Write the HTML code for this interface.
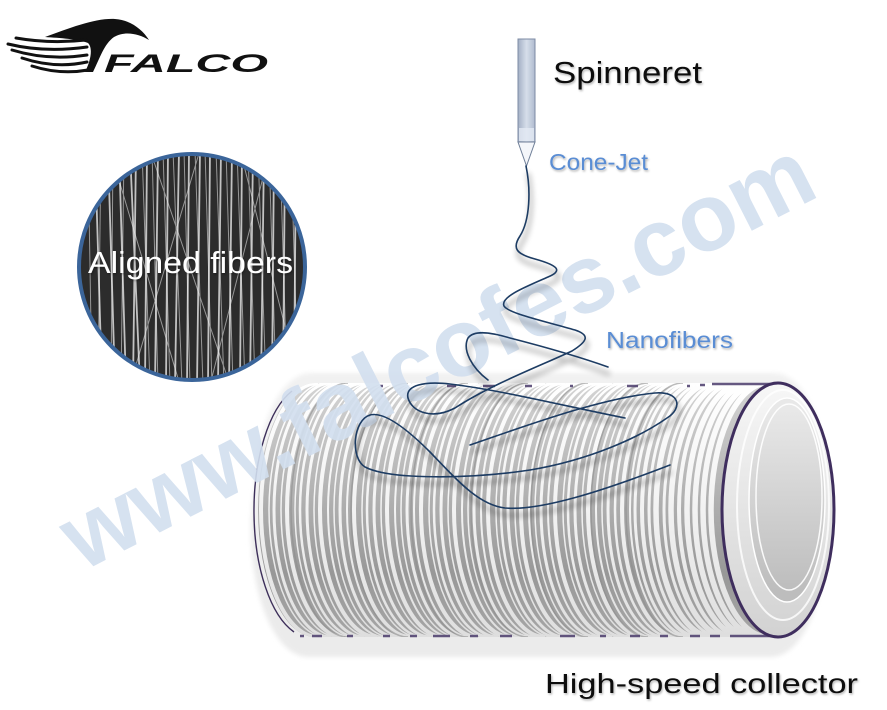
<!DOCTYPE html>
<html><head><meta charset="utf-8"><style>html,body{margin:0;padding:0;background:#fff;}svg{display:block}</style></head>
<body>
<svg width="887" height="710" viewBox="0 0 887 710" xmlns="http://www.w3.org/2000/svg" font-family="'Liberation Sans', Arial, sans-serif">
<defs>
<clipPath id="circ"><circle cx="192" cy="267" r="113"/></clipPath>
<clipPath id="bodyclip"><path d="M315,383 L778,383 A56,127 0 0 1 778,637 L315,637 A57,127 0 0 1 315,383 Z"/></clipPath>
<linearGradient id="bodyg" x1="0" y1="383" x2="0" y2="637" gradientUnits="userSpaceOnUse"><stop offset="0" stop-color="#d4d4d4"/><stop offset="0.35" stop-color="#b9b9b9"/><stop offset="0.75" stop-color="#989898"/><stop offset="1" stop-color="#a6a6a6"/></linearGradient>
<linearGradient id="sg" x1="0" y1="383" x2="0" y2="637" gradientUnits="userSpaceOnUse"><stop offset="0" stop-color="#ffffff"/><stop offset="0.5" stop-color="#f2f2f2"/><stop offset="1" stop-color="#dedede"/></linearGradient>
<linearGradient id="capg" x1="0" y1="383" x2="0" y2="637" gradientUnits="userSpaceOnUse"><stop offset="0" stop-color="#f7f7f7"/><stop offset="1" stop-color="#d2d2d2"/></linearGradient>
<linearGradient id="capin" x1="0" y1="410" x2="0" y2="590" gradientUnits="userSpaceOnUse"><stop offset="0" stop-color="#e8e8e8"/><stop offset="1" stop-color="#bdbdbd"/></linearGradient>
<linearGradient id="spg" x1="518" y1="0" x2="535" y2="0" gradientUnits="userSpaceOnUse"><stop offset="0" stop-color="#a3afc4"/><stop offset="0.5" stop-color="#d6deea"/><stop offset="1" stop-color="#b0bbcf"/></linearGradient>
<filter id="blur2" x="-10%" y="-10%" width="120%" height="130%"><feGaussianBlur stdDeviation="2.5"/></filter>
<filter id="fshadow" x="-10%" y="-10%" width="120%" height="130%"><feGaussianBlur stdDeviation="3"/></filter>
<filter id="tsh" x="-10%" y="-30%" width="120%" height="160%"><feDropShadow dx="1" dy="1.5" stdDeviation="1" flood-color="#000" flood-opacity="0.3"/></filter>
<path id="body" d="M315,383 L778,383 A56,127 0 0 1 778,637 L315,637 A57,127 0 0 1 315,383 Z"/>
<g id="fib">
<path d="M526,166 C531,190 530,220 520,236 C512,248 516,254 535,259 C560,266 562,271 548,277 C525,287 500,297 504,306 C508,313 540,320 575,330 C590,335 588,341 572,351 C540,366 490,385 455,408 C432,420 412,412 408,398 C405,385 425,381 450,384 C500,390 560,405 625,418"/>
<path d="M488,380 C472,368 462,350 468,338 C474,330 490,332 510,338 C545,347 580,357 608,367"/>
<path d="M470,445 C520,428 600,398 655,393 C680,391 683,408 667,418 C640,437 590,460 530,470 C470,479 390,480 365,467 C350,458 353,420 370,415 C385,411 410,432 430,452 C455,478 478,505 505,508 C540,511 600,492 670,465"/>
</g>
</defs>

<rect width="887" height="710" fill="#fff"/>

<!-- Logo -->
<path d="M45,37 C70,28 95,18 115,19 C130,20 142,29 149,40 C138,33 124,31 114,37 C104,44 100,58 93,72 L85,72 C91,60 93,48 88,43 C78,39 60,38 45,37 Z" fill="#111"/>
<path d="M16,38 Q50,44 86,40 M8,44 Q45,53 87,47 M12,50 Q48,61 87,55 M22,58 Q55,69 87,62 M32,66 Q60,75 88,70" fill="none" stroke="#111" stroke-width="3" stroke-linecap="round"/>
<text x="104" y="72" font-size="25" font-weight="bold" font-style="italic" fill="#111" textLength="164" lengthAdjust="spacingAndGlyphs">FALCO</text>

<!-- Aligned fibers circle -->
<g clip-path="url(#circ)">
<rect x="70" y="150" width="250" height="240" fill="#2c2c2c"/>
<path stroke="#f0f0f0" fill="none" stroke-width="1" opacity="0.55" d="M88,150L92,385M101,150L98,385M113,150L111,385M124,150L121,385M142,150L150,385M152,150L158,385M163,150L170,385M173,150L182,385M184,150L190,385M195,150L203,385M205,150L212,385M216,150L224,385M226,150L233,385M237,150L245,385M248,150L255,385M258,150L266,385M269,150L276,385M280,150L287,385M291,150L298,385M110,150L180,385M200,150L130,385M240,150L300,385M150,150L230,385M270,150L210,385"/>
<path stroke="#f4f4f4" fill="none" stroke-width="1.8" opacity="0.75" d="M95,150L102,385M108,150L115,385M119,150L126,385M130,150L140,385M136,150L133,385M147,150L145,385M158,150L155,385M168,150L166,385M179,150L175,385M189,150L187,385M200,150L197,385M210,150L208,385M221,150L218,385M232,150L229,385M242,150L240,385M253,150L250,385M264,150L261,385M274,150L272,385M285,150L283,385M296,150L294,385"/>
</g>
<circle cx="192" cy="267" r="113" fill="none" stroke="#3b659a" stroke-width="4"/>
<text x="88" y="273" font-size="31" fill="#fff" textLength="205" lengthAdjust="spacingAndGlyphs" filter="url(#tsh)">Aligned fibers</text>

<!-- Cylinder halo -->
<g filter="url(#blur2)">
<use href="#body" transform="translate(-7,20)" fill="#ebebeb"/>
<use href="#body" transform="translate(-4,-10)" fill="#f1f1f1"/>
</g>

<!-- Cylinder body -->
<use href="#body" fill="url(#bodyg)"/>
<g fill="none" stroke="url(#sg)" clip-path="url(#bodyclip)">
<path stroke-width="1.5" d="M326,383a57,127 0 0 0 0,254M338,383a57,127 0 0 0 0,254M352,383a57,127 0 0 0 0,254M371,383a57,127 0 0 0 0,254M391,383a57,127 0 0 0 0,254M419,383a57,127 0 0 0 0,254M438,383a57,127 0 0 0 0,254M458,383a57,127 0 0 0 0,254M486,383a57,127 0 0 0 0,254M505,383a57,127 0 0 0 0,254M525,383a57,127 0 0 0 0,254M553,383a57,127 0 0 0 0,254M572,383a57,127 0 0 0 0,254M592,383a57,127 0 0 0 0,254M620,383a57,127 0 0 0 0,254M639,383a57,127 0 0 0 0,254M659,383a57,127 0 0 0 0,254"/>
<path stroke-width="2" d="M385,383a57,127 0 0 0 0,254M404,383a57,127 0 0 0 0,254M452,383a57,127 0 0 0 0,254M471,383a57,127 0 0 0 0,254M519,383a57,127 0 0 0 0,254M538,383a57,127 0 0 0 0,254M586,383a57,127 0 0 0 0,254M605,383a57,127 0 0 0 0,254M653,383a57,127 0 0 0 0,254M687,383a57,127 0 0 0 0,254"/>
<path stroke-width="2.5" d="M357,383a57,127 0 0 0 0,254M424,383a57,127 0 0 0 0,254M491,383a57,127 0 0 0 0,254M558,383a57,127 0 0 0 0,254M625,383a57,127 0 0 0 0,254M672,383a57,127 0 0 0 0,254"/>
<path stroke-width="3" d="M331,383a57,127 0 0 0 0,254M364,383a57,127 0 0 0 0,254M397,383a57,127 0 0 0 0,254M431,383a57,127 0 0 0 0,254M464,383a57,127 0 0 0 0,254M498,383a57,127 0 0 0 0,254M531,383a57,127 0 0 0 0,254M565,383a57,127 0 0 0 0,254M598,383a57,127 0 0 0 0,254M632,383a57,127 0 0 0 0,254M665,383a57,127 0 0 0 0,254M692,383a57,127 0 0 0 0,254M706,383a57,127 0 0 0 0,254M721,383a57,127 0 0 0 0,254"/>
<path stroke-width="4" d="M318,383a57,127 0 0 0 0,254M344,383a57,127 0 0 0 0,254M377,383a57,127 0 0 0 0,254M411,383a57,127 0 0 0 0,254M444,383a57,127 0 0 0 0,254M478,383a57,127 0 0 0 0,254M511,383a57,127 0 0 0 0,254M545,383a57,127 0 0 0 0,254M578,383a57,127 0 0 0 0,254M612,383a57,127 0 0 0 0,254M645,383a57,127 0 0 0 0,254M679,383a57,127 0 0 0 0,254M699,383a57,127 0 0 0 0,254M736,383a57,127 0 0 0 0,254"/>
<path stroke-width="5.5" d="M713,383a57,127 0 0 0 0,254M728,383a57,127 0 0 0 0,254M744,383a57,127 0 0 0 0,254M752,383a57,127 0 0 0 0,254M760,383a57,127 0 0 0 0,254M768,383a57,127 0 0 0 0,254"/>
<path stroke="#8e8e8e" stroke-width="1.5" opacity="0.6" d="M348,383a57,127 0 0 0 0,254M408,383a57,127 0 0 0 0,254M468,383a57,127 0 0 0 0,254M528,383a57,127 0 0 0 0,254M588,383a57,127 0 0 0 0,254M648,383a57,127 0 0 0 0,254M683,383a57,127 0 0 0 0,254"/>
</g>
<!-- top / bottom dashes -->
<path stroke="#4a3b6b" stroke-width="2.5" opacity="0.85" fill="none" d="M380,386h3M447,386h9M483,386h12M525,386h7M570,386h3M627,386h11M687,386h3M700,385h5M712,384h66M300,636h4M312,636h10M347,636h6M383,636h7M410,636h7M433,636h17M470,636h8M500,636h12M560,636h15M600,636h6M630,636h10M660,636h8M690,636h10M710,636h10M730,636h48"/>
<path d="M292,391 A57,127 0 0 0 294,632" fill="none" stroke="#3d2f5a" stroke-width="1.4"/>
<!-- right cap -->
<ellipse cx="778" cy="510" rx="56" ry="127" fill="url(#capg)" stroke="#3f2e5e" stroke-width="3"/>
<ellipse cx="783" cy="505" rx="46" ry="115" fill="none" stroke="#ffffff" stroke-width="2" opacity="0.8"/>
<ellipse cx="787" cy="500" rx="38" ry="102" fill="url(#capin)" stroke="#ffffff" stroke-width="1.5"/>
<ellipse cx="789" cy="497" rx="33" ry="93" fill="none" stroke="#ffffff" stroke-width="1.5" opacity="0.9"/>

<!-- Watermark -->
<text transform="translate(82,572) rotate(-27)" font-size="96" font-weight="bold" fill="#d2dfef" opacity="0.9" textLength="830" lengthAdjust="spacingAndGlyphs">www.falcofes.com</text>

<!-- Spinneret -->
<rect x="518" y="39" width="17" height="103" fill="url(#spg)" stroke="#7d8ba4" stroke-width="1"/>
<rect x="519" y="128" width="15" height="13" fill="#e3eaf4" opacity="0.8"/>
<path d="M518,142 L535,142 L526.5,166 Z" fill="#f4f6fa" stroke="#6f7f98" stroke-width="1"/>

<!-- Fibers -->
<use href="#fib" fill="none" stroke="#000" stroke-width="3.5" opacity="0.28" filter="url(#fshadow)" transform="translate(2,7)"/>
<use href="#fib" fill="none" stroke="#1d3c63" stroke-width="1.6" stroke-linecap="round"/>

<!-- Labels -->
<text x="553" y="83" font-size="31" fill="#111" textLength="149" lengthAdjust="spacingAndGlyphs" filter="url(#tsh)">Spinneret</text>
<text x="549" y="170" font-size="23" fill="#5a8dd4" textLength="99" lengthAdjust="spacingAndGlyphs" filter="url(#tsh)">Cone-Jet</text>
<text x="606" y="348" font-size="23" fill="#5a8dd4" textLength="127" lengthAdjust="spacingAndGlyphs" filter="url(#tsh)">Nanofibers</text>
<text x="545" y="693" font-size="28" fill="#111" textLength="313" lengthAdjust="spacingAndGlyphs" filter="url(#tsh)">High-speed collector</text>
</svg>
</body></html>
